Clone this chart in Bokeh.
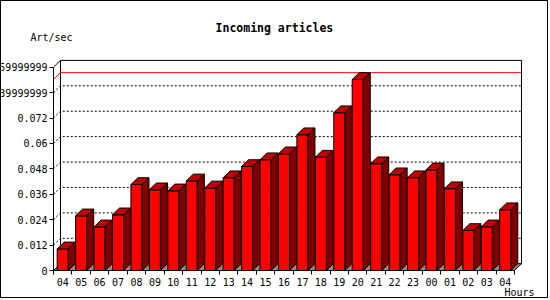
from bokeh.plotting import figure
from bokeh.models import Range1d, FixedTicker, CustomJSTickFormatter, LinearAxis, Label
from bokeh.embed import file_html
from bokeh.resources import INLINE

# ---------------- data ----------------
hours = ["04", "05", "06", "07", "08", "09", "10", "11", "12", "13", "14", "15",
         "16", "17", "18", "19", "20", "21", "22", "23", "00", "01", "02", "03", "04"]
rates = [0.0102, 0.0258, 0.0206, 0.0263, 0.0406, 0.0381, 0.0376, 0.0423, 0.0390,
         0.0438, 0.0491, 0.0523, 0.0551, 0.0641, 0.0535, 0.0745, 0.0902, 0.0504,
         0.0452, 0.0438, 0.0475, 0.0386, 0.0189, 0.0206, 0.0287]
ytick_values = [0, 0.012, 0.024, 0.036, 0.048, 0.06, 0.072, 0.084, 0.096]
ytick_labels = ["0", "0.012", "0.024", "0.036", "0.048", "0.06", "0.072",
                "0.0839999999", "0.0959999999"]
title_text = "Incoming articles"
y_unit = "Art/sec"
x_unit = "Hours"

# ---------------- geometry (3D look) ----------------
n = len(rates)
DX = 0.38          # depth offset in category units (~7 px)
DY = 0.0032        # depth offset in value units (~7 px)
YTOP = ytick_values[-1]
BACK_R = n + DX
BACK_T = YTOP + DY
BAR_L, BAR_R = 0.2, 0.8

FONT = "DejaVu Sans Mono"

p = figure(width=548, height=298,
           x_range=Range1d(-2.82, 26.90), y_range=Range1d(-0.01369, 0.12701),
           x_axis_type=None, y_axis_type=None, toolbar_location=None,
           output_backend="svg", min_border=0)
p.title.visible = False
p.outline_line_color = None
p.xgrid.visible = False
p.ygrid.visible = False
p.background_fill_color = "white"
p.border_fill_color = "white"
p.styles = {"border": "1px solid black"}

# back wall
p.quad(left=DX, right=BACK_R, bottom=DY, top=BACK_T, fill_color="white",
       line_color="black", line_width=1)
# left wall top edge
p.line(x=[0, DX], y=[YTOP, BACK_T], line_color="black", line_width=1)

# dotted grid lines on left wall + back wall
gxs, gys = [], []
for v in ytick_values[1:-1]:
    gxs.append([0, DX, BACK_R])
    gys.append([v, v + DY, v + DY])
p.multi_line(xs=gxs, ys=gys, line_color="black", line_dash="2 2", line_width=1)

# max line (red)
m = max(rates)
p.line(x=[0, DX, BACK_R], y=[m, m + DY, m + DY], line_color="red", line_width=1)

# floor
p.patch(x=[0, n, n + DX, DX], y=[0, 0, DY, DY], fill_color="#8c8c8c",
        line_color="black", line_width=1)

# bars
lefts = [i + BAR_L for i in range(n)]
rights = [i + BAR_R for i in range(n)]
p.quad(left=lefts, right=rights, bottom=0, top=rates, fill_color="#ff0000",
       line_color="black", line_width=1)
side_xs = [[r, r + DX, r + DX, r] for r in rights]
side_ys = [[0, DY, v + DY, v] for v in rates]
p.patches(xs=side_xs, ys=side_ys, fill_color="#800000", line_color="black", line_width=1)
top_xs = [[l, r, r + DX, l + DX] for l, r in zip(lefts, rights)]
top_ys = [[v, v, v + DY, v + DY] for v in rates]
p.patches(xs=top_xs, ys=top_ys, fill_color="#c00000", line_color="black", line_width=1)

# y axis (front plane)
yaxis = LinearAxis(fixed_location=0, bounds=(0, YTOP),
                   ticker=FixedTicker(ticks=ytick_values, minor_ticks=[]),
                   formatter=CustomJSTickFormatter(args=dict(labels=ytick_labels),
                                                   code="return labels[index]"))
yaxis.major_tick_out = 4
yaxis.major_tick_in = 0
yaxis.minor_tick_out = 0
yaxis.major_label_standoff = 2
yaxis.axis_line_color = "black"
yaxis.major_tick_line_color = "black"
yaxis.major_label_text_font = FONT
yaxis.major_label_text_font_size = "10px"
yaxis.major_label_text_color = "black"
p.add_layout(yaxis, "left")

# x axis
xaxis = LinearAxis(fixed_location=0, bounds=(0, n),
                   ticker=FixedTicker(ticks=[i + 0.5 for i in range(n)],
                                      minor_ticks=list(range(n + 1))),
                   formatter=CustomJSTickFormatter(args=dict(labels=hours),
                                                   code="return labels[Math.floor(tick)]"))
xaxis.major_tick_out = 0
xaxis.major_tick_in = 0
xaxis.minor_tick_out = 4
xaxis.minor_tick_in = 0
xaxis.major_label_standoff = 3
xaxis.axis_line_color = "black"
xaxis.minor_tick_line_color = "black"
xaxis.major_label_text_font = FONT
xaxis.major_label_text_font_size = "10px"
xaxis.major_label_text_color = "black"
p.add_layout(xaxis, "below")

# texts
p.add_layout(Label(x=11.98, y=0.1147, text=title_text, text_align="center",
                   text_baseline="middle", text_font=FONT, text_font_style="bold",
                   text_font_size="11.5px", text_color="black"))
p.add_layout(Label(x=-1.25, y=0.110, text=y_unit, text_align="left",
                   text_baseline="middle", text_font=FONT, text_font_size="10px",
                   text_color="black"))
p.add_layout(Label(x=24.46, y=-0.0105, text=x_unit, text_align="left",
                   text_baseline="middle", text_font=FONT, text_font_size="10px",
                   text_color="black"))

open("out.html", "w").write(file_html(p, INLINE))
